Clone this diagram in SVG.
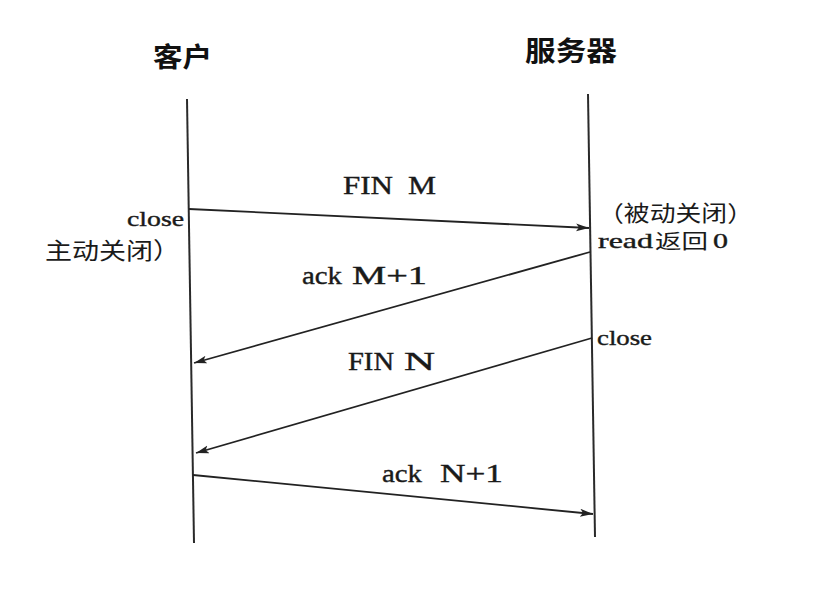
<svg xmlns="http://www.w3.org/2000/svg" width="822" height="592" viewBox="0 0 822 592">
<style>
.life{stroke:#2a2a2a;stroke-width:2;fill:none}
.msg{stroke:#222;stroke-width:1.8;fill:none}
.lat{font-family:"Liberation Serif","DejaVu Serif",serif;fill:#1a1a1a;stroke:#1a1a1a;stroke-width:0.4}
.cjk{font-family:"Noto Sans CJK SC","Liberation Sans",sans-serif;fill:#1a1a1a}
.title{font-family:"Noto Sans CJK SC","Liberation Sans",sans-serif;font-weight:bold;fill:#111}
</style>
<defs>
<marker id="arr" markerUnits="userSpaceOnUse" markerWidth="14" markerHeight="10" refX="13" refY="4" orient="auto">
<path d="M0,0 L13,4 L0,8 L3,4 z" fill="#222"/>
</marker>
</defs>
<rect width="822" height="592" fill="#fff"/>
<g id="client">
<text class="title" x="153" y="67" font-size="27" textLength="59" lengthAdjust="spacingAndGlyphs">客户</text>
<line class="life" x1="187" y1="99" x2="194" y2="543"/>
<text class="lat" x="127" y="226" font-size="22" textLength="57" lengthAdjust="spacingAndGlyphs">close</text>
<text class="cjk" x="45" y="259" font-size="23" textLength="135" lengthAdjust="spacingAndGlyphs">主动关闭）</text>
</g>
<g id="server">
<text class="title" x="525" y="61" font-size="27" textLength="92" lengthAdjust="spacingAndGlyphs">服务器</text>
<line class="life" x1="588" y1="94" x2="595" y2="537"/>
<text class="cjk" x="598" y="221" font-size="22" textLength="155" lengthAdjust="spacingAndGlyphs">（被动关闭）</text>
<text class="lat" x="598" y="248" font-size="22" textLength="55" lengthAdjust="spacingAndGlyphs">read</text>
<text class="cjk" x="655" y="249" font-size="20" textLength="53" lengthAdjust="spacingAndGlyphs">返回</text>
<text class="lat" x="713" y="248" font-size="22" textLength="15" lengthAdjust="spacingAndGlyphs">0</text>
<text class="lat" x="597" y="345" font-size="22" textLength="55" lengthAdjust="spacingAndGlyphs">close</text>
</g>
<g id="connectors">
<line class="msg" x1="189" y1="209" x2="589" y2="228" marker-end="url(#arr)"/>
<line class="msg" x1="590" y1="252" x2="194" y2="363" marker-end="url(#arr)"/>
<line class="msg" x1="592" y1="338" x2="196" y2="453" marker-end="url(#arr)"/>
<line class="msg" x1="193" y1="475" x2="593" y2="514" marker-end="url(#arr)"/>
</g>
<g id="labels">
<text class="lat" x="343" y="194" font-size="26" textLength="50" lengthAdjust="spacingAndGlyphs">FIN</text>
<text class="lat" x="408" y="194" font-size="26" textLength="28" lengthAdjust="spacingAndGlyphs">M</text>
<text class="lat" x="302" y="284" font-size="26" textLength="40" lengthAdjust="spacingAndGlyphs">ack</text>
<text class="lat" x="352" y="284" font-size="26" textLength="75" lengthAdjust="spacingAndGlyphs">M+1</text>
<text class="lat" x="348" y="370" font-size="26" textLength="46" lengthAdjust="spacingAndGlyphs">FIN</text>
<text class="lat" x="404" y="370" font-size="26" textLength="31" lengthAdjust="spacingAndGlyphs">N</text>
<text class="lat" x="382" y="482" font-size="26" textLength="40" lengthAdjust="spacingAndGlyphs">ack</text>
<text class="lat" x="440" y="482" font-size="26" textLength="63" lengthAdjust="spacingAndGlyphs">N+1</text>
</g>
</svg>
